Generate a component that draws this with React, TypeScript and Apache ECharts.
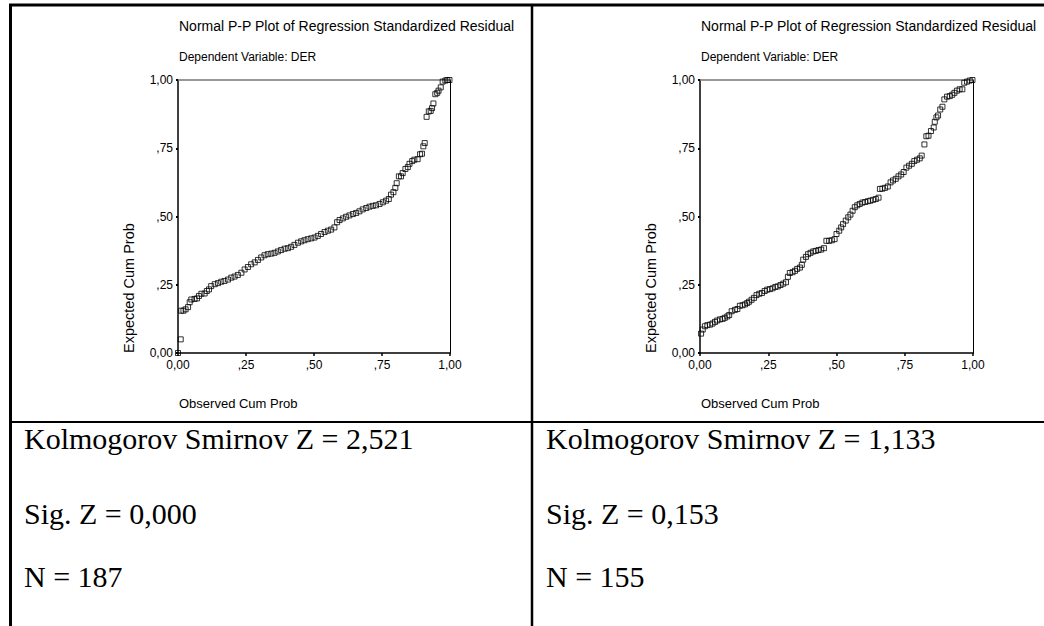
import React, { useEffect, useRef } from "react";
import * as echarts from "echarts";

// ---- data (observed cum prob, expected cum prob) ----
const leftObserved = [
  0.0, 0.01, 0.012, 0.02, 0.028, 0.037, 0.043, 0.049, 0.061, 0.07, 0.077, 0.086, 0.098, 0.106, 0.114,
  0.122, 0.135, 0.147, 0.159, 0.171, 0.184, 0.196, 0.208, 0.22, 0.233, 0.245, 0.257, 0.269, 0.282,
  0.294, 0.306, 0.318, 0.33, 0.343, 0.355, 0.367, 0.379, 0.392, 0.404, 0.416, 0.428, 0.441, 0.453,
  0.465, 0.477, 0.49, 0.502, 0.514, 0.526, 0.539, 0.551, 0.563, 0.575, 0.585, 0.594, 0.606, 0.618,
  0.63, 0.643, 0.655, 0.667, 0.679, 0.692, 0.704, 0.716, 0.728, 0.741, 0.753, 0.765, 0.775, 0.783,
  0.792, 0.799, 0.804, 0.812, 0.82, 0.826, 0.836, 0.845, 0.851, 0.861, 0.869, 0.881, 0.89, 0.897,
  0.902, 0.907, 0.914, 0.922, 0.929, 0.934, 0.939, 0.946, 0.953, 0.958, 0.966, 0.973, 0.983, 0.99,
  0.998,
];
const leftExpected = [
  0.0, 0.05, 0.155, 0.155, 0.16, 0.168, 0.186, 0.196, 0.198, 0.2, 0.209, 0.217, 0.218, 0.227, 0.233,
  0.245, 0.252, 0.256, 0.261, 0.264, 0.269, 0.276, 0.28, 0.286, 0.294, 0.306, 0.315, 0.325, 0.332,
  0.341, 0.35, 0.358, 0.362, 0.364, 0.367, 0.372, 0.377, 0.382, 0.384, 0.389, 0.396, 0.404, 0.409,
  0.413, 0.417, 0.42, 0.423, 0.429, 0.436, 0.443, 0.448, 0.452, 0.46, 0.479, 0.487, 0.493, 0.499,
  0.504, 0.509, 0.513, 0.519, 0.526, 0.531, 0.536, 0.539, 0.541, 0.546, 0.552, 0.558, 0.564, 0.58,
  0.589, 0.605, 0.622, 0.647, 0.647, 0.659, 0.674, 0.681, 0.693, 0.703, 0.708, 0.71, 0.728, 0.73,
  0.757, 0.769, 0.865, 0.885, 0.887, 0.897, 0.914, 0.948, 0.953, 0.961, 0.973, 0.994, 0.998, 1.0,
  1.0,
];
const rightObserved = [
  0.004, 0.01, 0.018, 0.027, 0.037, 0.046, 0.055, 0.063, 0.073, 0.083, 0.091, 0.1, 0.107, 0.116,
  0.128, 0.137, 0.146, 0.156, 0.165, 0.173, 0.18, 0.189, 0.198, 0.207, 0.217, 0.227, 0.237, 0.246,
  0.256, 0.266, 0.276, 0.285, 0.295, 0.305, 0.315, 0.322, 0.329, 0.339, 0.348, 0.356, 0.366, 0.373,
  0.378, 0.388, 0.396, 0.405, 0.415, 0.424, 0.434, 0.444, 0.454, 0.463, 0.473, 0.483, 0.493, 0.5,
  0.51, 0.517, 0.524, 0.534, 0.543, 0.551, 0.559, 0.567, 0.576, 0.585, 0.595, 0.605, 0.615, 0.624,
  0.634, 0.644, 0.654, 0.659, 0.668, 0.678, 0.688, 0.698, 0.707, 0.717, 0.727, 0.737, 0.746, 0.756,
  0.766, 0.776, 0.785, 0.795, 0.805, 0.812, 0.822, 0.829, 0.837, 0.846, 0.856, 0.86, 0.866, 0.872,
  0.88, 0.888, 0.895, 0.905, 0.915, 0.924, 0.932, 0.941, 0.951, 0.961, 0.968, 0.978, 0.988, 0.998,
];
const rightExpected = [
  0.071, 0.086, 0.098, 0.102, 0.104, 0.108, 0.114, 0.119, 0.123, 0.125, 0.129, 0.134, 0.139, 0.153,
  0.158, 0.161, 0.173, 0.175, 0.178, 0.183, 0.188, 0.195, 0.202, 0.212, 0.217, 0.22, 0.227, 0.232,
  0.234, 0.237, 0.242, 0.244, 0.249, 0.254, 0.259, 0.279, 0.293, 0.296, 0.301, 0.308, 0.313, 0.323,
  0.342, 0.352, 0.362, 0.367, 0.372, 0.374, 0.377, 0.379, 0.384, 0.411, 0.411, 0.413, 0.417, 0.436,
  0.448, 0.46, 0.472, 0.485, 0.497, 0.507, 0.521, 0.534, 0.541, 0.546, 0.551, 0.553, 0.556, 0.558,
  0.561, 0.564, 0.569, 0.601, 0.602, 0.605, 0.61, 0.625, 0.632, 0.638, 0.647, 0.654, 0.663, 0.679,
  0.686, 0.693, 0.703, 0.708, 0.713, 0.723, 0.764, 0.794, 0.796, 0.813, 0.826, 0.847, 0.863, 0.87,
  0.892, 0.902, 0.929, 0.939, 0.941, 0.946, 0.953, 0.961, 0.966, 0.966, 0.99, 0.994, 0.998, 1.0,
];

const tickLabels = ["0,00", ",25", ",50", ",75", "1,00"];
const plotTitle = "Normal P-P Plot of Regression Standardized Residual";
const depVar = "Dependent Variable: DER";
const xName = "Observed Cum Prob";
const yName = "Expected Cum Prob";
const leftStats = ["Kolmogorov Smirnov Z = 2,521", "Sig. Z = 0,000", "N = 187"];
const rightStats = ["Kolmogorov Smirnov Z = 1,133", "Sig. Z = 0,153", "N = 155"];

const SANS = "'Liberation Sans', Arial, sans-serif";
const SERIF = "'Liberation Serif', 'Times New Roman', serif";

const fmt = (v: number) => tickLabels[Math.round(v / 0.25)] ?? "";

function axesFor(gridIndex: number) {
  const base = { min: 0, max: 1, interval: 0.25, gridIndex, splitLine: { show: false } };
  return {
    x: [
      {
        ...base,
        type: "value",
        position: "bottom",
        axisLine: { show: true, lineStyle: { color: "#000", width: 1.5 } },
        axisTick: { show: true, length: 3, lineStyle: { color: "#000", width: 1.5 } },
        axisLabel: { formatter: fmt, color: "#000", fontFamily: SANS, fontSize: 12, margin: 6 },
      },
      {
        ...base,
        type: "value",
        position: "top",
        axisLine: { show: true, onZero: false, lineStyle: { color: "#777", width: 1.5 } },
        axisTick: { show: false },
        axisLabel: { show: false },
      },
    ],
    y: [
      {
        ...base,
        type: "value",
        position: "left",
        axisLine: { show: true, lineStyle: { color: "#000", width: 1.5 } },
        axisTick: { show: true, length: 2, lineStyle: { color: "#000", width: 2 } },
        axisLabel: { formatter: fmt, color: "#000", fontFamily: SANS, fontSize: 12, margin: 5 },
      },
      {
        ...base,
        type: "value",
        position: "right",
        axisLine: { show: true, onZero: false, lineStyle: { color: "#000", width: 1 } },
        axisTick: { show: false },
        axisLabel: { show: false },
      },
    ],
  };
}

export default function App() {
  const ref = useRef<HTMLDivElement>(null);

  useEffect(() => {
    document.body.style.margin = "0";
    if (!ref.current) return;
    const chart = echarts.init(ref.current, undefined, { renderer: "svg" });

    const a0 = axesFor(0);
    const a1 = axesFor(1);

    const line = (x1: number, y1: number, x2: number, y2: number, w: number) => ({
      type: "line",
      silent: true,
      shape: { x1, y1, x2, y2 },
      style: { stroke: "#000", lineWidth: w },
    });
    const txt = (text: string, x: number, y: number, font: string, extra: any = {}) => ({
      type: "text",
      silent: true,
      x,
      y,
      ...extra,
      style: {
        text,
        fill: "#000",
        font,
        verticalAlign: "middle",
        ...(extra.style || {}),
      },
    });

    const panels = [
      { px: 178, stats: leftStats, sx: 24, yn: 129 },
      { px: 700, stats: rightStats, sx: 546, yn: 651 },
    ];

    const graphics: any[] = [
      line(9, 5, 1044, 5, 3),
      line(10.5, 4, 10.5, 626, 3),
      line(532, 5, 532, 626, 2.5),
      line(9, 422, 1044, 422, 2),
    ];
    panels.forEach((p) => {
      graphics.push(txt(plotTitle, p.px + 1, 26, `14px ${SANS}`));
      graphics.push(txt(depVar, p.px + 1, 57, `12px ${SANS}`));
      graphics.push(txt(xName, p.px + 1, 403, `13px ${SANS}`));
      graphics.push(
        txt(yName, p.yn, 353, `14.5px ${SANS}`, { rotation: Math.PI / 2, style: { align: "left" } })
      );
      graphics.push(txt(p.stats[0], p.sx, 438, `30px ${SERIF}`));
      graphics.push(txt(p.stats[1], p.sx, 513, `30px ${SERIF}`));
      graphics.push(txt(p.stats[2], p.sx, 576, `30px ${SERIF}`));
    });

    const scatterStyle = {
      type: "scatter",
      symbol: "rect",
      symbolSize: 5,
      itemStyle: { color: "rgba(255,255,255,0)", borderColor: "#000", borderWidth: 1 },
      silent: true,
    };

    chart.setOption({
      animation: false,
      backgroundColor: "#fff",
      grid: [
        { left: 178, top: 80, width: 272, height: 273 },
        { left: 700, top: 80, width: 273, height: 273 },
      ],
      xAxis: [...a0.x, ...a1.x.map((x) => ({ ...x, gridIndex: 1 }))],
      yAxis: [...a0.y, ...a1.y.map((y) => ({ ...y, gridIndex: 1 }))],
      series: [
        {
          ...scatterStyle,
          xAxisIndex: 0,
          yAxisIndex: 0,
          data: leftObserved.map((v, i) => [v, leftExpected[i]]),
        },
        {
          ...scatterStyle,
          xAxisIndex: 2,
          yAxisIndex: 2,
          data: rightObserved.map((v, i) => [v, rightExpected[i]]),
        },
      ],
      graphic: graphics,
    });

    return () => chart.dispose();
  }, []);

  return (
    <div
      ref={ref}
      style={{ position: "absolute", left: 0, top: 0, width: 1044, height: 626 }}
    />
  );
}
